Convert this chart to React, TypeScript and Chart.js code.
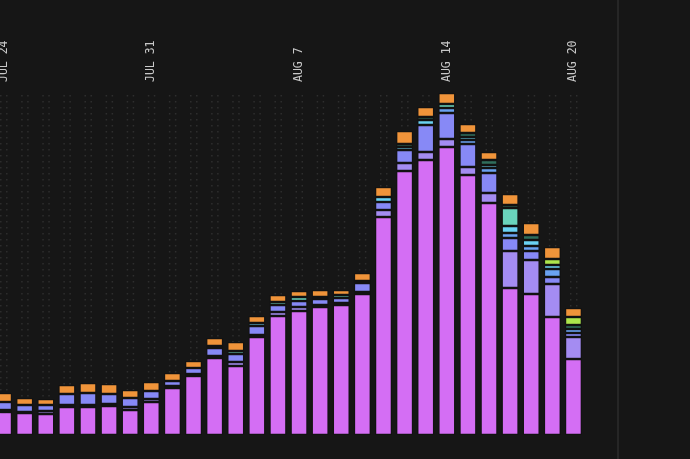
import React, { useEffect, useRef } from 'react';
import { Chart, registerables } from 'chart.js';

Chart.register(...registerables);

const days = [
  'JUL 24', 'JUL 25', 'JUL 26', 'JUL 27', 'JUL 28', 'JUL 29', 'JUL 30',
  'JUL 31', 'AUG 1', 'AUG 2', 'AUG 3', 'AUG 4', 'AUG 5', 'AUG 6',
  'AUG 7', 'AUG 8', 'AUG 9', 'AUG 10', 'AUG 11', 'AUG 12', 'AUG 13',
  'AUG 14', 'AUG 15', 'AUG 16', 'AUG 17', 'AUG 18', 'AUG 19', 'AUG 20',
];
const shownTicks = ['JUL 24', 'JUL 31', 'AUG 7', 'AUG 14', 'AUG 20'];

const magenta = [23, 22, 21, 28, 28, 29, 25, 33, 47, 59, 77, 69, 98, 119, 124, 128, 130, 141, 218, 264, 275, 288, 260, 232, 147, 141, 118, 76];
const lavender = [2, 1, 3, 2, 2, 2, 3, 3, 2, 2, 2, 4, 2, 4, 4, 2, 2, 2, 7, 8, 8, 8, 8, 10, 37, 34, 33, 22];
const periwinkle = [8, 7, 6, 11, 12, 10, 9, 8, 5, 6, 8, 8, 9, 7, 6, 6, 5, 9, 8, 13, 27, 26, 23, 20, 13, 9, 7, 4];
const blue = [0, 0, 0, 0, 0, 0, 0, 0, 0, 0, 0, 0, 0, 0, 0, 0, 0, 0, 0, 0, 0, 5, 4, 5, 5, 5, 8, 4];
const cyan = [0, 0, 0, 0, 0, 0, 0, 0, 0, 0, 2, 0, 3, 0, 0, 2, 0, 2, 5, 3, 5, 0, 3, 3, 7, 6, 4, 0];
const teal = [0, 0, 0, 0, 0, 0, 0, 0, 0, 0, 0, 3, 0, 3, 4, 0, 3, 0, 0, 0, 0, 4, 0, 0, 18, 0, 0, 0];
const darkTeal = [0, 0, 0, 0, 0, 0, 0, 0, 0, 0, 0, 0, 0, 0, 0, 0, 0, 0, 0, 3, 3, 0, 4, 5, 3, 5, 0, 4];
const lime = [0, 0, 0, 0, 0, 0, 0, 0, 0, 0, 0, 0, 0, 0, 0, 0, 0, 0, 0, 0, 0, 0, 0, 0, 0, 0, 6, 8];
const orange = [9, 7, 6, 9, 10, 10, 8, 9, 8, 7, 8, 9, 7, 7, 6, 7, 5, 8, 10, 13, 10, 11, 9, 8, 11, 12, 12, 9];

const series = [
  { label: 'a', data: magenta, color: '#d46ef4' },
  { label: 'b', data: lavender, color: '#a48cf2' },
  { label: 'c', data: periwinkle, color: '#8789f6' },
  { label: 'd', data: blue, color: '#6aa2f2' },
  { label: 'e', data: cyan, color: '#6ad2f2' },
  { label: 'f', data: teal, color: '#6ad4bc' },
  { label: 'g', data: darkTeal, color: '#2f6e5c' },
  { label: 'h', data: lime, color: '#ade64c' },
  { label: 'i', data: orange, color: '#f0943a' },
];

const decor = {
  id: 'decor',
  beforeDatasetsDraw(chart: any) {
    const { ctx, chartArea } = chart;
    const x = chart.scales.x;
    ctx.save();
    ctx.fillStyle = '#2e2e2e';
    days.forEach((_, i) => {
      const cx = x.getPixelForValue(i);
      for (let y = chartArea.top + 3; y < chartArea.bottom; y += 6) {
        ctx.fillRect(cx - 3.5, y, 1.5, 1.5);
        ctx.fillRect(cx + 2.5, y, 1.5, 1.5);
      }
    });
    ctx.restore();
  },
  afterDraw(chart: any) {
    const { ctx } = chart;
    const x = chart.scales.x;
    ctx.save();
    ctx.fillStyle = '#c8c8c8';
    ctx.font = '11.5px "DejaVu Sans Mono"';
    ctx.textAlign = 'left';
    ctx.textBaseline = 'middle';
    shownTicks.forEach((t) => {
      const cx = x.getPixelForValue(days.indexOf(t));
      ctx.save();
      ctx.translate(cx, 82);
      ctx.rotate(-Math.PI / 2);
      ctx.fillText(t, 0, 0);
      ctx.restore();
    });
    ctx.restore();
  },
};

export default function App() {
  const canvasRef = useRef<HTMLCanvasElement | null>(null);

  useEffect(() => {
    if (!canvasRef.current) return;
    const chart = new Chart(canvasRef.current, {
      type: 'bar',
      data: {
        labels: days,
        datasets: series.map((s) => ({
          label: s.label,
          data: s.data,
          backgroundColor: s.color,
          borderColor: '#121212',
          borderWidth: 1.2,
          borderSkipped: false,
          barPercentage: 0.8,
          categoryPercentage: 1,
        })),
      },
      options: {
        responsive: false,
        animation: false,
        layout: { padding: { top: 92, bottom: 24, left: 0, right: 0 } },
        plugins: { legend: { display: false }, tooltip: { enabled: false } },
        scales: {
          x: { stacked: true, display: false },
          y: { stacked: true, display: false, min: 0, max: 343 },
        },
      },
      plugins: [decor],
    });
    return () => chart.destroy();
  }, []);

  return (
    <div style={{ position: 'fixed', inset: 0, background: '#161616', overflow: 'hidden' }}>
      <canvas
        ref={canvasRef}
        width={591}
        height={459}
        style={{ position: 'absolute', left: -7.5, top: 0, width: 591, height: 459 }}
      />
      <div style={{ position: 'absolute', left: 617, top: 0, width: 2, height: 459, background: '#262626' }} />
    </div>
  );
}
